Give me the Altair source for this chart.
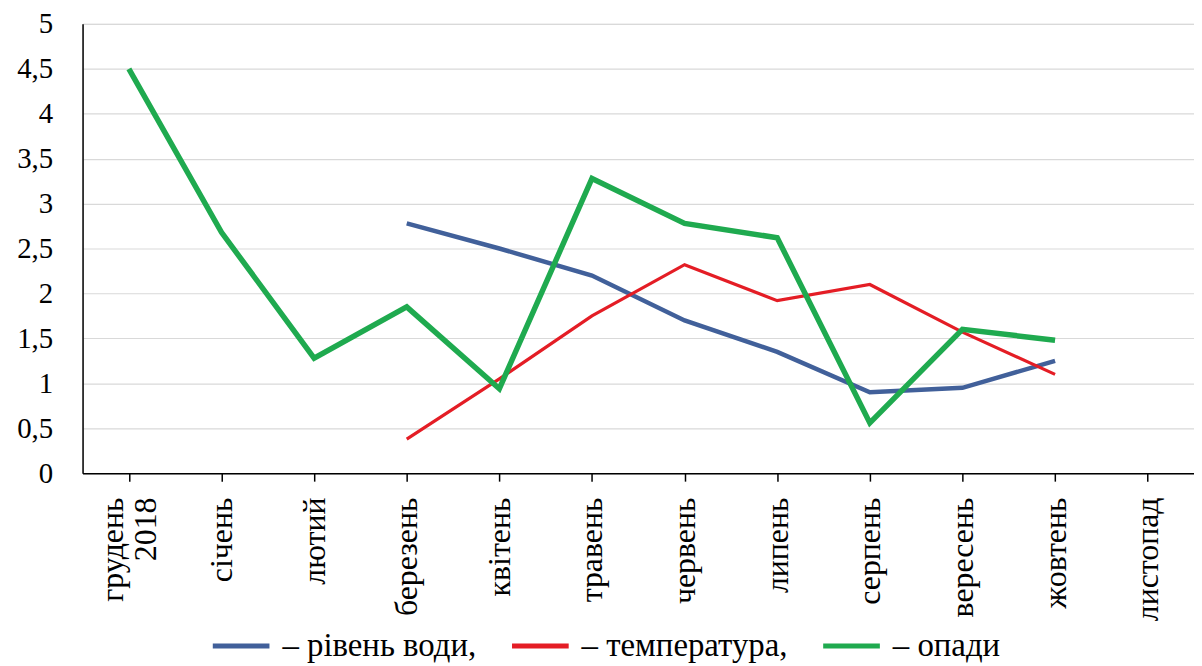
import altair as alt
import pandas as pd

months = ["грудень 2018", "січень", "лютий", "березень", "квітень", "травень",
          "червень", "липень", "серпень", "вересень", "жовтень", "листопад"]

water_months = ["березень", "квітень", "травень", "червень", "липень", "серпень", "вересень", "жовтень"]
water = [2.78, 2.5, 2.2, 1.7, 1.35, 0.9, 0.95, 1.25]

temp_months = ["березень", "квітень", "травень", "червень", "липень", "серпень", "вересень", "жовтень"]
temp = [0.38, 1.05, 1.75, 2.32, 1.92, 2.1, 1.57, 1.1]

rain_months = ["грудень 2018", "січень", "лютий", "березень", "квітень", "травень",
               "червень", "липень", "серпень", "вересень", "жовтень"]
rain = [4.5, 2.68, 1.28, 1.85, 0.94, 3.28, 2.78, 2.62, 0.56, 1.6, 1.48]

series = ["рівень води", "температура", "опади"]
colors = ["#41609a", "#e41d25", "#1faa4f"]
widths = [4.5, 3.2, 5.5]

rows = []
for m, v in zip(water_months, water):
    rows.append({"month": m, "value": v, "series": series[0]})
for m, v in zip(temp_months, temp):
    rows.append({"month": m, "value": v, "series": series[1]})
for m, v in zip(rain_months, rain):
    rows.append({"month": m, "value": v, "series": series[2]})
df = pd.DataFrame(rows)

FONT = "Times New Roman, Liberation Serif, DejaVu Serif, serif"

base = alt.Chart(df).transform_calculate(
    month_idx="indexof(" + str(months).replace('"', "'") + ", datum.month)"
).encode(
    x=alt.X("month:N", sort=months,
            scale=alt.Scale(domain=months, type="point", padding=0.5),
            axis=alt.Axis(title=None, labelAngle=270, labelAlign="right", labelBaseline="middle",
                          labelPadding=16, tickSize=8, tickColor="#000", domainColor="#000",
                          domainWidth=1.5, tickWidth=1.5,
                          labelFont=FONT, labelFontSize=32, labelColor="#000",
                          labelLineHeight=33,
                          labelOffset={"condition": {"test": "datum.value == 'грудень 2018'", "value": -16}, "value": 0},
                          labelExpr="datum.value == 'грудень 2018' ? ['грудень', '2018'] : datum.label",
                          grid=False)),
    y=alt.Y("value:Q",
            scale=alt.Scale(domain=[0, 5], nice=False),
            axis=alt.Axis(title=None, values=[0, 0.5, 1, 1.5, 2, 2.5, 3, 3.5, 4, 4.5, 5],
                          labelExpr="replace(format(datum.value, ''), '.', ',')",
                          ticks=False, labelPadding=30, domainColor="#000", domainWidth=1.5,
                          labelFont=FONT, labelFontSize=29, labelColor="#000",
                          grid=True, gridColor="#d9d9d9", gridWidth=1.2)),
    color=alt.Color("series:N",
                    scale=alt.Scale(domain=series, range=colors),
                    sort=series,
                    legend=alt.Legend(title=None, orient="none", direction="horizontal",
                                      legendX=128, legendY=594,
                                      symbolType="stroke", symbolStrokeWidth=5, symbolSize=3250,
                                      labelFont=FONT, labelFontSize=33, labelColor="#000",
                                      labelExpr="datum.label == 'опади' ? '– опади' : '– ' + datum.label + ','",
                                      columnPadding=24, labelOffset=10, labelLimit=400)),
    order=alt.Order("month_idx:Q"),
)

layers = [
    base.transform_filter(alt.datum.series == s).mark_line(strokeWidth=w, strokeCap="butt", strokeJoin="miter")
    for s, w in zip(series, widths)
]

chart = alt.layer(*layers).properties(
    width=1118, height=452,
    padding={"left": 8, "top": 0, "right": 0, "bottom": 0},
).configure_view(stroke=None).configure(background="white")

chart.save("out.html", embed_options={"renderer": "svg", "actions": False})
